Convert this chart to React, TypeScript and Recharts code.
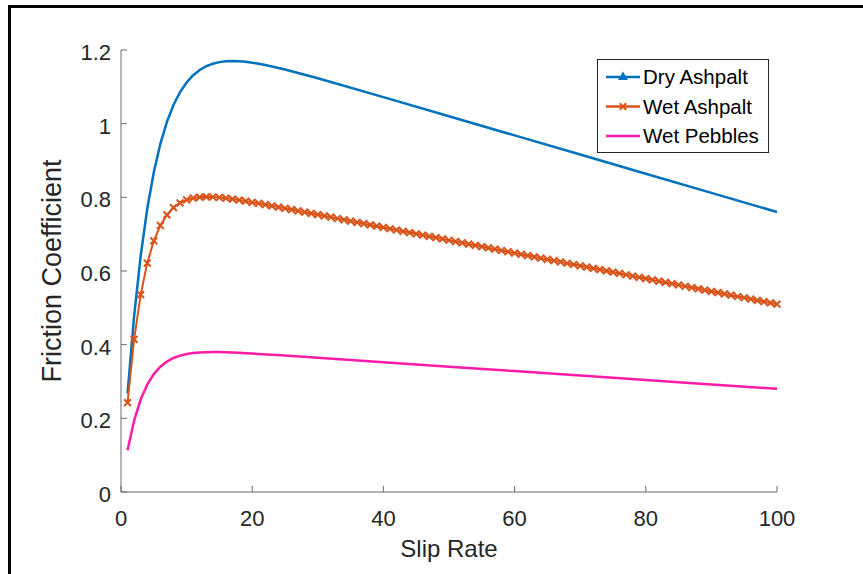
import { LineChart, Line, XAxis, YAxis, Legend } from "recharts"

const FONT = "'Liberation Sans', Arial, Helvetica, sans-serif"
const TEXT = "#262626"
const AXIS = "#6b6b6b"

const xTicks = [0, 20, 40, 60, 80, 100]
const yTicks = [0, 0.2, 0.4, 0.6, 0.8, 1, 1.2]

// slip rate samples
const wetSlip = [
  1, 2, 3, 4, 5, 6, 7, 8, 9, 10, 11, 12, 13, 14, 15, 16, 17, 18, 19, 20,
  21, 22, 23, 24, 25, 26, 27, 28, 29, 30, 31, 32, 33, 34, 35, 36, 37, 38, 39, 40,
  41, 42, 43, 44, 45, 46, 47, 48, 49, 50, 51, 52, 53, 54, 55, 56, 57, 58, 59, 60,
  61, 62, 63, 64, 65, 66, 67, 68, 69, 70, 71, 72, 73, 74, 75, 76, 77, 78, 79, 80,
  81, 82, 83, 84, 85, 86, 87, 88, 89, 90, 91, 92, 93, 94, 95, 96, 97, 98, 99, 100,
]
const wetAsphalt = [
  0.2425, 0.4143, 0.5359, 0.6216, 0.6817, 0.7236, 0.7524, 0.772, 0.7849, 0.7932,
  0.7981, 0.8006, 0.8013, 0.8009, 0.7996, 0.7977, 0.7953, 0.7926, 0.7897, 0.7866,
  0.7834, 0.7802, 0.7768, 0.7735, 0.7701, 0.7667, 0.7632, 0.7598, 0.7564, 0.7529,
  0.7494, 0.746, 0.7425, 0.739, 0.7356, 0.7321, 0.7286, 0.7251, 0.7217, 0.7182,
  0.7147, 0.7113, 0.7078, 0.7043, 0.7009, 0.6974, 0.6939, 0.6904, 0.687, 0.6835,
  0.68, 0.6766, 0.6731, 0.6696, 0.6662, 0.6627, 0.6592, 0.6557, 0.6523, 0.6488,
  0.6453, 0.6419, 0.6384, 0.6349, 0.6315, 0.628, 0.6245, 0.621, 0.6176, 0.6141,
  0.6106, 0.6072, 0.6037, 0.6002, 0.5968, 0.5933, 0.5898, 0.5863, 0.5829, 0.5794,
  0.5759, 0.5725, 0.569, 0.5655, 0.5621, 0.5586, 0.5551, 0.5516, 0.5482, 0.5447,
  0.5412, 0.5378, 0.5343, 0.5308, 0.5274, 0.5239, 0.5204, 0.5169, 0.5135, 0.51,
]

const drySlip = [
  1, 2, 3, 4, 5, 6, 7, 8, 9, 10, 11, 12, 13, 14, 15, 16, 17, 18, 19, 20,
  21, 22, 23, 24, 25, 26, 27, 28, 29, 30, 40, 50, 60, 70, 80, 90, 100,
]
const dryAsphalt = [
  0.2679, 0.4775, 0.6412, 0.769, 0.8683, 0.9454, 1.005, 1.0507, 1.0855, 1.1119,
  1.1315, 1.1458, 1.1559, 1.1628, 1.1671, 1.1693, 1.17, 1.1695, 1.1679, 1.1655,
  1.1626, 1.1592, 1.1554, 1.1513, 1.1469, 1.1424, 1.1377, 1.133, 1.1281, 1.1231,
  1.0721, 1.0201, 0.9681, 0.9161, 0.8641, 0.8121, 0.7601,
]

const pebbleSlip = [
  1, 2, 3, 4, 5, 6, 7, 8, 9, 10, 11, 12, 13, 14, 15, 16, 17, 18, 19, 20,
  25, 30, 40, 50, 60, 70, 80, 90, 100,
]
const wetPebbles = [
  0.1134, 0.194, 0.2511, 0.2916, 0.3202, 0.3402, 0.3542, 0.3638, 0.3703, 0.3746,
  0.3774, 0.379, 0.3797, 0.38, 0.3798, 0.3793, 0.3786, 0.3778, 0.3769, 0.3758,
  0.3703, 0.3643, 0.3522, 0.3402, 0.3282, 0.3161, 0.3041, 0.292, 0.28,
]

const toRows = (xs: number[], ys: number[]) => xs.map((x, i) => ({ x, y: ys[i] }))

const dryData = toRows(drySlip, dryAsphalt)
const wetData = toRows(wetSlip, wetAsphalt)
const pebbleData = toRows(pebbleSlip, wetPebbles)

const BLUE = "#0072bd"
const ORANGE = "#d95319"
const PINK = "#ff1aa8"

const xMark = (cx: number, cy: number, r: number) =>
  `M${cx - r},${cy - r}L${cx + r},${cy + r}M${cx - r},${cy + r}L${cx + r},${cy - r}`

const WetDot = (p: any) => {
  if (p.cx == null || p.cy == null) return <g key={p.index} />
  return <path key={p.index} d={xMark(p.cx, p.cy, 3.4)} stroke={ORANGE} strokeWidth={2} fill="none" />
}

const XTick = ({ x, y, payload }: any) => (
  <text x={x} y={y + 15.5} textAnchor="middle" fill={TEXT} fontSize={22} fontFamily={FONT}>
    {payload.value}
  </text>
)

const YTick = ({ x, y, payload }: any) => (
  <text x={x} y={y + 10} textAnchor="end" fill={TEXT} fontSize={22} fontFamily={FONT}>
    {payload.value}
  </text>
)

const legendRows = [
  { name: "Dry Ashpalt", color: BLUE, marker: "tri" },
  { name: "Wet Ashpalt", color: ORANGE, marker: "x" },
  { name: "Wet Pebbles", color: PINK, marker: "none" },
]

function LegendBox() {
  return (
    <svg width={172} height={94} style={{ display: "block" }}>
      <rect x={0.5} y={0.5} width={171} height={93} fill="#fff" stroke={TEXT} strokeWidth={1} />
      {legendRows.map((r, i) => {
        const cy = 18 + i * 29.5
        return (
          <g key={r.name}>
            <line x1={9} x2={43} y1={cy} y2={cy} stroke={r.color} strokeWidth={2.5} />
            {r.marker === "tri" && (
              <path d={`M26,${cy - 5.5}L31,${cy + 3}L21,${cy + 3}Z`} fill={r.color} />
            )}
            {r.marker === "x" && (
              <path d={xMark(26, cy, 3.2)} stroke={r.color} strokeWidth={2} fill="none" />
            )}
            <text x={46} y={cy + 7} fontSize={20.5} fill="#000" fontFamily={FONT}>
              {r.name}
            </text>
          </g>
        )
      })}
    </svg>
  )
}

export default function App() {
  return (
    <div style={{ position: "absolute", left: 0, top: 0, width: 863, height: 574, background: "#fff" }}>
      <div
        style={{
          position: "absolute",
          left: 8,
          top: 5,
          right: 0,
          bottom: 0,
          borderTop: "3px solid #000",
          borderLeft: "3px solid #000",
        }}
      />
      <div style={{ position: "absolute", left: 0, top: 0 }}>
        <LineChart width={863} height={574} margin={{ top: 50, right: 86, left: 0, bottom: 0 }}>
          <XAxis
            dataKey="x"
            type="number"
            domain={[0, 100]}
            ticks={xTicks}
            height={82}
            stroke={AXIS}
            tickSize={-6}
            tickMargin={24}
            tick={<XTick />}
            label={{
              value: "Slip Rate",
              position: "insideBottom",
              offset: 17,
              fill: TEXT,
              fontSize: 24,
              fontFamily: FONT,
            }}
          />
          <XAxis
            xAxisId="top"
            orientation="top"
            type="number"
            domain={[0, 100]}
            ticks={xTicks}
            height={0}
            stroke={AXIS}
            tickSize={-5}
            tick={false}
          />
          <YAxis
            type="number"
            domain={[0, 1.2]}
            ticks={yTicks}
            width={121}
            stroke={AXIS}
            tickSize={-6}
            tickMargin={16}
            tick={<YTick />}
            label={{
              value: "Friction Coefficient",
              angle: -90,
              position: "center",
              dx: -9,
              fill: TEXT,
              fontSize: 27,
              fontFamily: FONT,
            }}
          />
          <YAxis
            yAxisId="right"
            orientation="right"
            type="number"
            domain={[0, 1.2]}
            ticks={yTicks}
            width={0}
            stroke={AXIS}
            tickSize={-6}
            tick={false}
          />
          <Legend
            layout="horizontal"
            align="center"
            verticalAlign="middle"
            content={() => <LegendBox />}
            wrapperStyle={{ left: 597, top: 59, width: 172, height: 94 }}
          />
          <Line
            data={dryData}
            dataKey="y"
            name="Dry Ashpalt"
            type="linear"
            stroke={BLUE}
            strokeWidth={2.5}
            dot={false}
            isAnimationActive={false}
          />
          <Line
            data={wetData}
            dataKey="y"
            name="Wet Ashpalt"
            type="linear"
            stroke={ORANGE}
            strokeWidth={2}
            dot={WetDot}
            isAnimationActive={false}
          />
          <Line
            data={pebbleData}
            dataKey="y"
            name="Wet Pebbles"
            type="linear"
            stroke={PINK}
            strokeWidth={2.5}
            dot={false}
            isAnimationActive={false}
          />
        </LineChart>
      </div>
    </div>
  )
}
